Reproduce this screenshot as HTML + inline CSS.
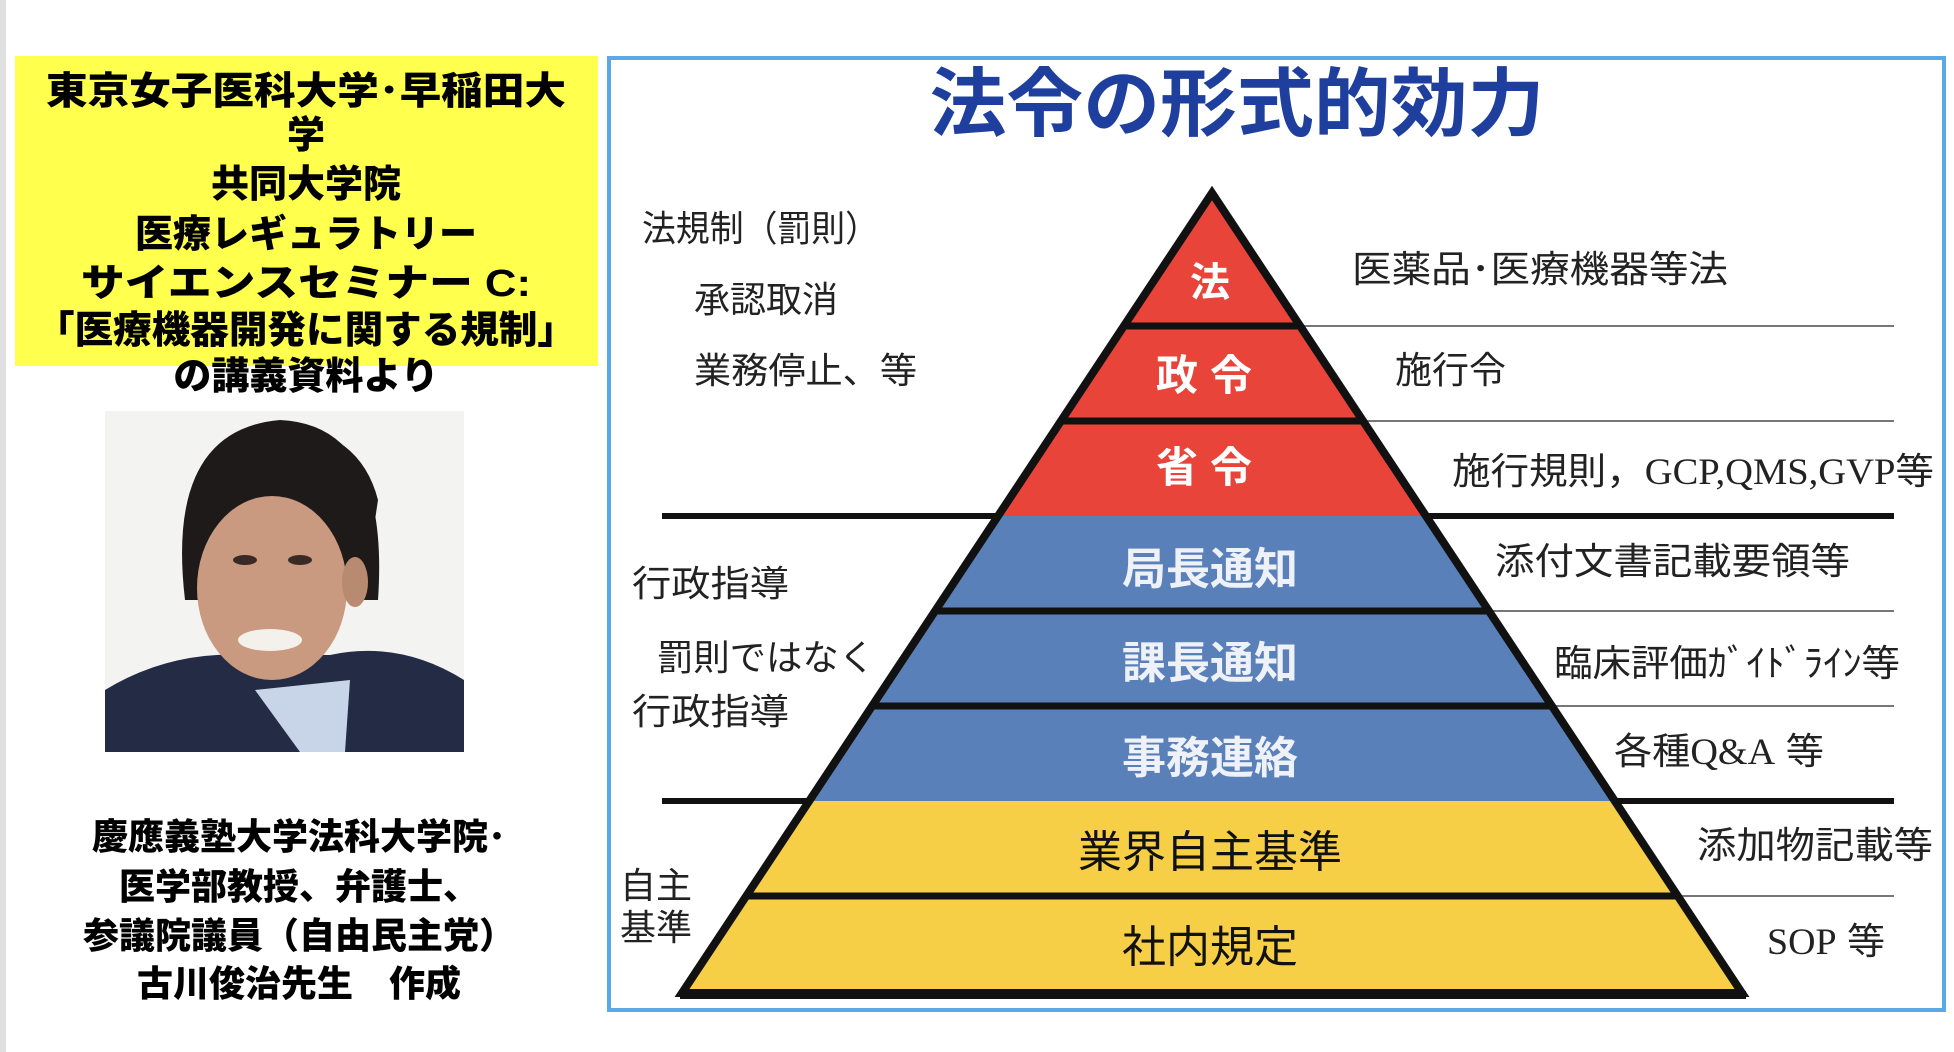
<!DOCTYPE html>
<html><head><meta charset="utf-8"><style>
html,body{margin:0;padding:0;background:#fff;}
svg{display:block;}
text{font-family:"Liberation Sans","Noto Sans CJK JP",sans-serif;}
</style></head><body>
<svg width="1954" height="1052" viewBox="0 0 1954 1052" xmlns="http://www.w3.org/2000/svg">
<rect x="0" y="0" width="6" height="1052" fill="#e0e0e0"/>
<rect x="15" y="56" width="583" height="310" fill="#ffff4d"/>
<g font-weight="900" font-size="38" text-anchor="middle" fill="#000">
<text x="306" y="104" textLength="520" lengthAdjust="spacingAndGlyphs">東京女子医科大学･早稲田大</text>
<text x="306" y="148">学</text>
<text x="306" y="197">共同大学院</text>
<text x="306" y="247">医療レギュラトリー</text>
<text x="306" y="296" textLength="450" lengthAdjust="spacingAndGlyphs">サイエンスセミナー C:</text>
<text x="306" y="343" textLength="540" lengthAdjust="spacingAndGlyphs">「医療機器開発に関する規制」</text>
<text x="306" y="389">の講義資料より</text>
</g>
<defs><clipPath id="ph"><rect x="105" y="411" width="359" height="341"/></clipPath></defs>
<g clip-path="url(#ph)">
<rect x="105" y="411" width="359" height="341" fill="#f3f3f2"/>
<path d="M105 690 Q170 650 250 655 L330 655 Q400 640 464 680 L464 752 L105 752 Z" fill="#232c44"/>
<path d="M255 690 L300 752 L345 752 L350 680 Z" fill="#c8d4e8"/>
<path d="M185 600 Q165 430 280 420 Q390 425 378 600 Z" fill="#1e1a1a"/>
<ellipse cx="272" cy="588" rx="75" ry="92" fill="#c99a80"/>
<ellipse cx="355" cy="582" rx="13" ry="25" fill="#b88a70"/>
<path d="M190 560 Q200 480 280 470 Q350 470 372 540 L378 500 Q360 430 280 425 Q180 435 188 560 Z" fill="#1e1a1a"/>
<ellipse cx="245" cy="560" rx="12" ry="5" fill="#3a2a25"/>
<ellipse cx="300" cy="560" rx="12" ry="5" fill="#3a2a25"/>
<ellipse cx="270" cy="640" rx="32" ry="11" fill="#f4f0ec"/>
</g>
<g font-weight="900" font-size="36" text-anchor="middle" fill="#000">
<text x="299" y="849">慶應義塾大学法科大学院･</text>
<text x="299" y="899">医学部教授、弁護士、</text>
<text x="299" y="948">参議院議員（自由民主党）</text>
<text x="299" y="996">古川俊治先生　作成</text>
</g>
<rect x="609" y="58" width="1335" height="952" fill="none" stroke="#5aa9e6" stroke-width="4"/>
<text x="1237" y="130" font-size="75" font-weight="bold" text-anchor="middle" fill="#1f3f9e" textLength="615" lengthAdjust="spacingAndGlyphs">法令の形式的効力</text>
<line x1="662" y1="516" x2="1894" y2="516" stroke="#111" stroke-width="6"/>
<line x1="662" y1="801" x2="1894" y2="801" stroke="#111" stroke-width="6"/>
<g stroke="#777" stroke-width="2">
<line x1="1280" y1="326" x2="1894" y2="326"/>
<line x1="1340" y1="421" x2="1894" y2="421"/>
<line x1="1470" y1="611" x2="1894" y2="611"/>
<line x1="1530" y1="706" x2="1894" y2="706"/>
<line x1="1660" y1="896" x2="1894" y2="896"/>
</g>
<polygon points="1212,193 1212,193 1302,326 1122,326" fill="#e8443a"/>
<polygon points="1122,326 1302,326 1365,421 1059,421" fill="#e8443a"/>
<polygon points="1059,421 1365,421 1427,516 997,516" fill="#e8443a"/>
<polygon points="997,516 1427,516 1490,611 934,611" fill="#5a80b9"/>
<polygon points="934,611 1490,611 1553,706 871,706" fill="#5a80b9"/>
<polygon points="871,706 1553,706 1616,801 809,801" fill="#5a80b9"/>
<polygon points="809,801 1616,801 1679,896 746,896" fill="#f6cf47"/>
<polygon points="746,896 1679,896 1742,993 682,993" fill="#f6cf47"/>
<g stroke="#111" stroke-width="7">
<line x1="1122" y1="326" x2="1302" y2="326"/>
<line x1="1059" y1="421" x2="1365" y2="421"/>
<line x1="934" y1="611" x2="1490" y2="611"/>
<line x1="871" y1="706" x2="1553" y2="706"/>
<line x1="746" y1="896" x2="1679" y2="896"/>
</g>
<polygon points="1212,193 1742,993 682,993" fill="none" stroke="#111" stroke-width="8" stroke-linejoin="miter"/>
<line x1="680" y1="995" x2="1746" y2="995" stroke="#111" stroke-width="8"/>
<g text-anchor="middle" font-weight="bold" fill="#fff">
<text x="1210" y="296" font-size="40">法</text>
<text x="1210" y="390" font-size="42" letter-spacing="12">政令</text>
<text x="1210" y="482" font-size="42" letter-spacing="12">省令</text>
<text x="1210" y="584" font-size="44" fill="#eef1f7">局長通知</text>
<text x="1210" y="678" font-size="44" fill="#eef1f7">課長通知</text>
<text x="1210" y="773" font-size="44" fill="#eef1f7">事務連絡</text>
<text x="1210" y="867" font-size="44" fill="#111" font-weight="normal">業界自主基準</text>
<text x="1210" y="962" font-size="44" fill="#111" font-weight="normal">社内規定</text>
</g>
<g font-size="37" fill="#222">
<text x="1352" y="282" textLength="376" lengthAdjust="spacingAndGlyphs">医薬品･医療機器等法</text>
<text x="1395" y="383">施行令</text>
<text x="1452" y="484" textLength="482" lengthAdjust="spacingAndGlyphs">施行規則，<tspan font-family="Liberation Serif">GCP,QMS,GVP</tspan>等</text>
<text x="1495" y="574" textLength="355" lengthAdjust="spacingAndGlyphs">添付文書記載要領等</text>
<text x="1554" y="676" textLength="346" lengthAdjust="spacingAndGlyphs">臨床評価ｶﾞｲﾄﾞﾗｲﾝ等</text>
<text x="1614" y="764" textLength="210" lengthAdjust="spacingAndGlyphs">各種<tspan font-family="Liberation Serif">Q&amp;A</tspan> 等</text>
<text x="1697" y="858" textLength="236" lengthAdjust="spacingAndGlyphs">添加物記載等</text>
<text x="1767" y="954" textLength="118" lengthAdjust="spacingAndGlyphs"><tspan font-family="Liberation Serif">SOP</tspan> 等</text>
</g>
<g font-size="36" fill="#222">
<text x="642" y="241" textLength="237" lengthAdjust="spacingAndGlyphs">法規制（罰則）</text>
<text x="694" y="312">承認取消</text>
<text x="694" y="383" textLength="223" lengthAdjust="spacingAndGlyphs">業務停止、等</text>
<text x="632" y="596" textLength="157" lengthAdjust="spacingAndGlyphs">行政指導</text>
<text x="657" y="670" textLength="218" lengthAdjust="spacingAndGlyphs">罰則ではなく</text>
<text x="632" y="724" textLength="157" lengthAdjust="spacingAndGlyphs">行政指導</text>
<text x="620" y="898">自主</text>
<text x="620" y="940">基準</text>
</g>
</svg>
</body></html>
